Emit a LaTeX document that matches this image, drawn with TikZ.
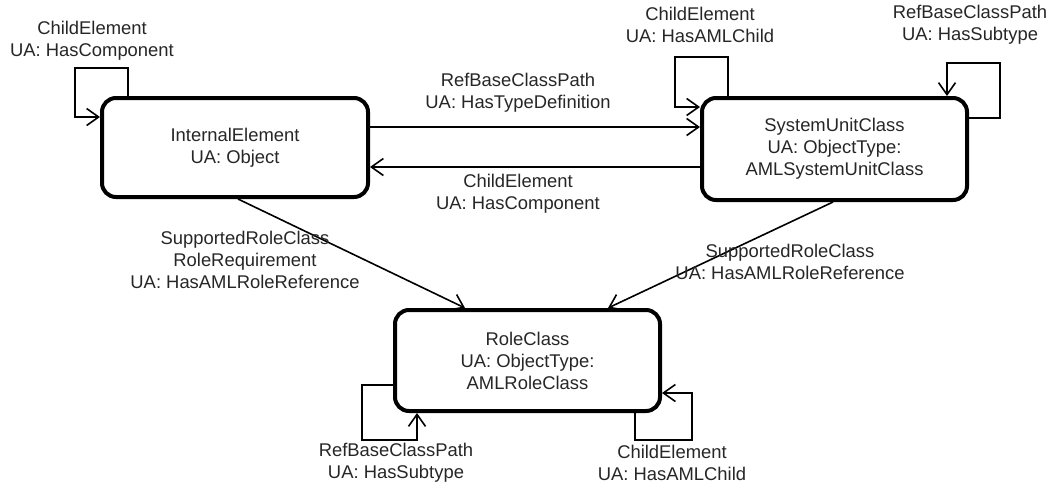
\documentclass[tikz,border=0pt]{standalone}
\usepackage{fontspec}
\setmainfont{Liberation Sans}
\usetikzlibrary{arrows.meta}
\begin{document}
\begin{tikzpicture}[x=1pt,y=-1pt,
  every node/.style={font=\fontsize{18.4}{22}\selectfont, text=black!85},
  box/.style={draw=black, line width=4pt, rounded corners=14pt, align=center, inner sep=0pt},
  lbl/.style={align=center, inner sep=0pt},
  conn/.style={draw=black, line width=1.6pt},
  arr/.style={conn, -{Straight Barb[length=12pt,width=17pt,line width=1.6pt]}}]
\useasboundingbox (0,0) rectangle (1051,485);
% boxes
\node[box, minimum width=266pt, minimum height=99pt] (ie) at (235,147.5) {InternalElement\\UA: Object};
\node[box, minimum width=265pt, minimum height=102pt] (suc) at (834.5,149) {SystemUnitClass\\UA: ObjectType:\\AMLSystemUnitClass};
\node[box, minimum width=265pt, minimum height=101pt] (rc) at (527.5,360.5) {RoleClass\\UA: ObjectType:\\AMLRoleClass};
% connectors between boxes
\draw[arr] (ie.east |- 0,127) -- (suc.west |- 0,127);
\draw[arr] (suc.west |- 0,167) -- (ie.east |- 0,167);
\draw[arr] (ie.south -| 238,0) -- (rc.north -| 465,0);
\draw[arr] (suc.south -| 833,0) -- (rc.north -| 608,0);
% self loops
\draw[arr] (ie.north -| 128,0) -- (128,68) -- (75,68) |- (ie.west |- 0,117);
\draw[arr] (suc.north -| 728,0) -- (728,57) -- (675,57) |- (suc.west |- 0,107);
\draw[arr] (suc.east |- 0,118) -- (1000,118) -- (1000,63) -| (suc.north -| 947,0);
\draw[arr] (rc.west |- 0,385) -- (362,385) -- (362,440) -| (rc.south -| 417,0);
\draw[arr] (rc.south -| 635,0) -- (635,440) -- (692,440) |- (rc.east |- 0,393);
% labels
\node[lbl] (l1) at (92,41) {ChildElement\\UA: HasComponent};
\node[lbl] (l2) at (700,25) {ChildElement\\UA: HasAMLChild};
\node[lbl] (l3) at (970,25) {RefBaseClassPath\\UA: HasSubtype};
\node[lbl] (l4) at (518,93) {RefBaseClassPath\\UA: HasTypeDefinition};
\node[lbl] (l5) at (518,193.5) {ChildElement\\UA: HasComponent};
\node[lbl] (l6) at (245,260) {SupportedRoleClass\\RoleRequirement\\UA: HasAMLRoleReference};
\node[lbl] (l7) at (790,262) {SupportedRoleClass\\UA: HasAMLRoleReference};
\node[lbl] (l8) at (396,463) {RefBaseClassPath\\UA: HasSubtype};
\node[lbl] (l9) at (672,463) {ChildElement\\UA: HasAMLChild};
\end{tikzpicture}
\end{document}
